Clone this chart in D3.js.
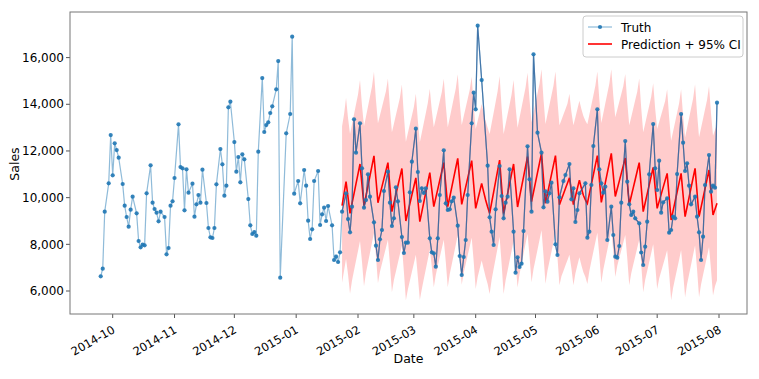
<!DOCTYPE html>
<html><head><meta charset="utf-8">
<script src="https://cdn.jsdelivr.net/npm/d3@7"></script>
<style>body{margin:0;background:#fff} svg{display:block} text{font-family:"DejaVu Sans",sans-serif;fill:#000}</style>
</head><body><svg id="c" width="759" height="379"></svg>
<script>
// ---- data ----
const truthDates = [
"2014-09-25","2014-09-26","2014-09-27","2014-09-29","2014-09-30","2014-10-01","2014-10-02","2014-10-03","2014-10-04",
"2014-10-06","2014-10-07","2014-10-08","2014-10-09","2014-10-10","2014-10-11",
"2014-10-13","2014-10-14","2014-10-15","2014-10-16","2014-10-17","2014-10-18",
"2014-10-20","2014-10-21","2014-10-22","2014-10-23","2014-10-24","2014-10-25",
"2014-10-27","2014-10-28","2014-10-29","2014-10-30","2014-10-31","2014-11-01",
"2014-11-03","2014-11-04","2014-11-05","2014-11-06","2014-11-07","2014-11-08",
"2014-11-10","2014-11-11","2014-11-12","2014-11-13","2014-11-14","2014-11-15",
"2014-11-17","2014-11-18","2014-11-19","2014-11-20","2014-11-21","2014-11-22",
"2014-11-24","2014-11-25","2014-11-26","2014-11-27","2014-11-28","2014-11-29",
"2014-12-01","2014-12-02","2014-12-03","2014-12-04","2014-12-05","2014-12-06",
"2014-12-08","2014-12-09","2014-12-10","2014-12-11","2014-12-12","2014-12-13",
"2014-12-15","2014-12-16","2014-12-17","2014-12-18","2014-12-19","2014-12-20",
"2014-12-22","2014-12-23","2014-12-24","2014-12-27",
"2014-12-29","2014-12-30","2014-12-31","2015-01-02","2015-01-03",
"2015-01-05","2015-01-06","2015-01-07","2015-01-08","2015-01-09","2015-01-10",
"2015-01-12","2015-01-13","2015-01-14","2015-01-15","2015-01-16","2015-01-17",
"2015-01-19","2015-01-20","2015-01-21","2015-01-22","2015-01-23","2015-01-24",
"2015-01-26","2015-01-27","2015-01-28","2015-01-29","2015-01-30","2015-01-31",
"2015-02-02","2015-02-03","2015-02-04","2015-02-05","2015-02-06","2015-02-07",
"2015-02-09","2015-02-10","2015-02-11","2015-02-12","2015-02-13","2015-02-14",
"2015-02-16","2015-02-17","2015-02-18","2015-02-19","2015-02-20","2015-02-21",
"2015-02-23","2015-02-24","2015-02-25","2015-02-26","2015-02-27","2015-02-28",
"2015-03-02","2015-03-03","2015-03-04","2015-03-05","2015-03-06","2015-03-07",
"2015-03-09","2015-03-10","2015-03-11","2015-03-12","2015-03-13","2015-03-14",
"2015-03-16","2015-03-17","2015-03-18","2015-03-19","2015-03-20","2015-03-21",
"2015-03-23","2015-03-24","2015-03-25","2015-03-26","2015-03-27","2015-03-28",
"2015-03-30","2015-03-31","2015-04-01","2015-04-02","2015-04-04",
"2015-04-07","2015-04-08","2015-04-09","2015-04-10","2015-04-11",
"2015-04-13","2015-04-14","2015-04-15","2015-04-16","2015-04-17","2015-04-18",
"2015-04-20","2015-04-21","2015-04-22","2015-04-23","2015-04-24","2015-04-25",
"2015-04-27","2015-04-28","2015-04-29","2015-04-30","2015-05-02",
"2015-05-04","2015-05-05","2015-05-06","2015-05-07","2015-05-08","2015-05-09",
"2015-05-11","2015-05-12","2015-05-13","2015-05-15","2015-05-16",
"2015-05-18","2015-05-19","2015-05-20","2015-05-21","2015-05-22","2015-05-23",
"2015-05-26","2015-05-27","2015-05-28","2015-05-29","2015-05-30",
"2015-06-01","2015-06-02","2015-06-03","2015-06-04","2015-06-05","2015-06-06",
"2015-06-08","2015-06-09","2015-06-10","2015-06-11","2015-06-12","2015-06-13",
"2015-06-15","2015-06-16","2015-06-17","2015-06-18","2015-06-19","2015-06-20",
"2015-06-22","2015-06-23","2015-06-24","2015-06-25","2015-06-26","2015-06-27",
"2015-06-29","2015-06-30","2015-07-01","2015-07-02","2015-07-03","2015-07-04",
"2015-07-06","2015-07-07","2015-07-08","2015-07-09","2015-07-10","2015-07-11",
"2015-07-13","2015-07-14","2015-07-15","2015-07-16","2015-07-17","2015-07-18",
"2015-07-20","2015-07-21","2015-07-22","2015-07-23","2015-07-24","2015-07-25",
"2015-07-27","2015-07-28","2015-07-29","2015-07-30","2015-07-31"];
const truthValues = [
6628,6957,9399,10612,12683,10955,12326,12040,11712,
10584,9656,9170,8756,9484,10041,
9327,8142,7871,7985,7956,10184,
11384,9784,9513,9356,8985,9399,
9170,7571,7842,9656,9841,10841,
13140,11312,11255,9456,11212,10213,
10598,9184,9713,10113,9784,11198,
9770,8699,8299,8271,8699,10570,
12083,11426,10084,10512,13868,14111,
12383,11112,11741,10655,11855,11641,
9941,8813,8442,8528,8370,11969,
15125,12812,13111,13226,13626,13911,
14639,15853,6571,12754,
13583,16896,10170,10713,9757,
11184,10512,9012,8228,8643,10713,
11141,8828,9286,9571,9000,9642,
8814,7328,7470,7242,7656,9400,
10184,9084,8513,9613,13354,11926,
13183,11255,9570,9898,10998,10041,
8942,7942,7328,8213,8613,10284,
11112,9784,8785,9113,10441,9841,
8313,7628,8071,8071,10227,11541,
12954,11098,9856,10400,10200,10400,
8256,7656,7614,7042,8256,10113,
12026,9756,9470,9499,9841,9998,
8799,7499,6685,7457,8185,10113,
13183,14497,13783,17367,15039,
11369,9156,8542,7971,9499,
11355,10070,9113,9784,10041,11212,
8542,6785,7442,7028,7171,8570,
12198,10784,9399,16139,12783,
11926,9584,10270,9827,10184,10641,
8000,7542,10013,10712,10970,
11441,9927,10398,8956,9470,10184,
10612,8285,8542,10541,12212,
13783,11212,10612,10213,10470,8185,
9613,8400,7470,7428,7928,9784,
12426,10684,9713,9256,9399,9113,
8900,7650,7114,7900,8970,11000,
13154,11255,10327,11583,9356,9800,
9970,8499,8613,9184,9113,11012,
13583,12355,11141,11469,10512,9713,
10041,9184,8513,7328,8328,10541,
11826,10255,10512,10427,14068];
const testStart = "2015-01-24";
const predStart = "2015-01-24";
const predValues = [
9655,10170,10684,10010,9330,9752,10174,10597,11019,
11441,10548,9655,10082,10509,10936,11363,
11790,10787,9784,10127,10470,10814,11157,
11500,10450,9400,9770,10140,10510,10880,
11250,10125,9000,9370,9740,10110,10480,
10850,9910,8970,9390,9810,10230,10650,
11069,10341,9613,9990,10367,10744,11121,
11498,10556,9613,10027,10441,10855,11270,
11684,10699,9713,10087,10461,10835,11210,
11584,10562,9540,9900,10250,10612,10250,
9900,9600,9327,9784,10241,10698,11155,
11612,10470,9327,9750,10173,10595,11018,
11441,10520,9600,10031,10462,10893,11324,
11755,10791,9827,10241,10655,11069,11484,
11898,10829,9760,10168,10576,10984,11392,
11800,10750,9700,9930,10160,10390,10620,
10850,10275,9700,10050,10400,10750,10400,
10100,9900,9750,10160,10570,10980,11390,
11800,10800,9800,10220,10640,11060,11480,
11900,10975,10050,10380,10710,11040,11370,
11700,10700,9700,10060,10420,10780,11140,
11500,10450,9400,9780,10160,10540,10920,
11300,10420,9541,9841,10141,10441,10741,
11041,10042,9042,9442,9842,10242,10642,
11041,10112,9184,9598,10012,10427,10841,
11255,10220,9184,9584,9984,10384,10784,
11184,10220,9256,9500,9756];
const ciUpper = [
13055,13570,14284,13410,12730,13152,13574,13997,14419,
15041,13948,13055,13482,13909,14336,14763,
15390,14187,13184,13527,13870,14214,14557,
15100,13850,12800,13170,13540,13910,14280,
14850,13525,12400,12770,13140,13510,13880,
14450,13310,12370,12790,13210,13630,14050,
14669,13741,13013,13390,13767,14144,14521,
15098,13956,13013,13427,13841,14255,14670,
15284,14099,13113,13487,13861,14235,14610,
15184,13962,12940,13300,13650,14012,13650,
13300,13000,12727,13184,13641,14098,14555,
15212,13870,12727,13150,13573,13995,14418,
15041,13920,13000,13431,13862,14293,14724,
15355,14191,13227,13641,14055,14469,14884,
15498,14229,13160,13568,13976,14384,14792,
15400,14150,13100,13330,13560,13790,14020,
14450,13675,13100,13450,13800,14150,13800,
13500,13300,13150,13560,13970,14380,14790,
15400,14200,13200,13620,14040,14460,14880,
15500,14375,13450,13780,14110,14440,14770,
15300,14100,13100,13460,13820,14180,14540,
15100,13850,12800,13180,13560,13940,14320,
14900,13820,12941,13241,13541,13841,14141,
14641,13442,12442,12842,13242,13642,14042,
14641,13512,12584,12998,13412,13827,14241,
14855,13620,12584,12984,13384,13784,14184,
14784,13620,12656,12900,13156];
const ciLower = [
6355,6870,7384,6710,5880,6452,6874,7297,7719,
8141,7248,6205,6782,7209,7636,8063,
8490,7487,6334,6827,7170,7514,7857,
8200,7150,5950,6470,6840,7210,7580,
7950,6825,5600,6070,6440,6810,7180,
7550,6610,5610,6090,6510,6930,7350,
7769,7041,6163,6690,7067,7444,7821,
8198,7256,6163,6727,7141,7555,7970,
8384,7399,6263,6787,7161,7535,7910,
8284,7262,6090,6600,6950,7312,6950,
6600,6300,5877,6484,6941,7398,7855,
8312,7170,5877,6450,6873,7295,7718,
8141,7220,6150,6731,7162,7593,8024,
8455,7491,6377,6941,7355,7769,8184,
8598,7529,6310,6868,7276,7684,8092,
8500,7450,6250,6630,6860,7090,7320,
7550,6975,6250,6750,7100,7450,7100,
6800,6600,6300,6860,7270,7680,8090,
8500,7500,6350,6920,7340,7760,8180,
8600,7675,6600,7080,7410,7740,8070,
8400,7400,6250,6760,7120,7480,7840,
8200,7150,5950,6480,6860,7240,7620,
8000,7120,6091,6541,6841,7141,7441,
7741,6742,5600,6142,6542,6942,7342,
7741,6812,5734,6298,6712,7127,7541,
7955,6920,5734,6284,6684,7084,7484,
7884,6920,5806,6200,6456];
const yTickValues = [6000, 8000, 10000, 12000, 14000, 16000];
const xTickLabels = ["2014-10","2014-11","2014-12","2015-01","2015-02","2015-03","2015-04","2015-05","2015-06","2015-07","2015-08"];
const seriesNames = ["Truth", "Prediction + 95% CI"];

// ---- chart ----
const parse = d3.timeParse("%Y-%m-%d");
const parseM = d3.timeParse("%Y-%m");
const svg = d3.select("#c");
const L = 70, R = 747, T = 12, B = 314;

const x = d3.scaleTime()
  .domain([parseM(xTickLabels[0]), parseM(xTickLabels[xTickLabels.length - 1])])
  .range([112.7, 719]);
const y = d3.scaleLinear().domain([5015, 17954]).range([B, T]);

const truth = truthDates.map((d, i) => ({ date: parse(d), value: truthValues[i] }));
const tStart = parse(testStart);
const truthTest = truth.filter(d => d.date >= tStart);
const p0 = parse(predStart);
const pred = predValues.map((v, i) => ({ date: d3.timeDay.offset(p0, i), value: v, lo: ciLower[i], hi: ciUpper[i] }));

svg.append("defs").append("clipPath").attr("id", "clip")
  .append("rect").attr("x", L).attr("y", T).attr("width", R - L).attr("height", B - T);
const g = svg.append("g").attr("clip-path", "url(#clip)");

const line = d3.line().x(d => x(d.date)).y(d => y(d.value));
const blue = "#1f77b4";

g.append("path").datum(truth).attr("d", line)
  .attr("fill", "none").attr("stroke", blue).attr("stroke-width", 1.2).attr("stroke-opacity", 0.5);

g.append("path").datum(pred)
  .attr("d", d3.area().x(d => x(d.date)).y0(d => y(d.lo)).y1(d => y(d.hi)))
  .attr("fill", "#ff0000").attr("fill-opacity", 0.2);

g.append("path").datum(pred).attr("d", line)
  .attr("fill", "none").attr("stroke", "#ff0000").attr("stroke-width", 1.6);

g.append("path").datum(truthTest).attr("d", line)
  .attr("fill", "none").attr("stroke", "#2a5f9a").attr("stroke-width", 1.2).attr("stroke-opacity", 0.75);

g.selectAll("circle.pt").data(truth).join("circle").attr("class", "pt")
  .attr("cx", d => x(d.date)).attr("cy", d => y(d.value)).attr("r", 2.1)
  .attr("fill", blue).attr("fill-opacity", 0.9);

// axes
const yAxis = svg.append("g");
yTickValues.forEach(v => {
  yAxis.append("line").attr("x1", L - 4).attr("x2", L).attr("y1", y(v)).attr("y2", y(v)).attr("stroke", "#555");
  yAxis.append("text").attr("x", L - 6).attr("y", y(v)).attr("dy", "0.35em")
    .attr("text-anchor", "end").attr("font-size", "12px").text(d3.format(",")(v));
});
const xAxis = svg.append("g");
xTickLabels.forEach(s => {
  const xv = x(parseM(s));
  xAxis.append("line").attr("x1", xv).attr("x2", xv).attr("y1", B).attr("y2", B + 4).attr("stroke", "#555");
  xAxis.append("text").attr("transform", `translate(${xv - 1},${B + 11}) rotate(-30)`)
    .attr("text-anchor", "end").attr("dy", "0.7em").attr("font-size", "11.5px").text(s);
});

// frame
svg.append("rect").attr("x", L).attr("y", T).attr("width", R - L).attr("height", B - T)
  .attr("fill", "none").attr("stroke", "#777").attr("stroke-width", 1);

svg.append("text").attr("x", (L + R) / 2).attr("y", 363).attr("text-anchor", "middle")
  .attr("font-size", "12.5px").text("Date");
svg.append("text").attr("transform", "translate(19,164) rotate(-90)").attr("text-anchor", "middle")
  .attr("font-size", "12.5px").text("Sales");

// legend
const lg = svg.append("g");
lg.append("rect").attr("x", 583).attr("y", 16).attr("width", 160).attr("height", 41).attr("rx", 3)
  .attr("fill", "#fff").attr("fill-opacity", 0.85).attr("stroke", "#ccc");
lg.append("line").attr("x1", 588).attr("x2", 612).attr("y1", 27).attr("y2", 27)
  .attr("stroke", blue).attr("stroke-width", 1.2).attr("stroke-opacity", 0.5);
lg.append("circle").attr("cx", 600).attr("cy", 27).attr("r", 2.1).attr("fill", blue).attr("fill-opacity", 0.9);
lg.append("text").attr("x", 621).attr("y", 31.5).attr("font-size", "12px").text(seriesNames[0]);
lg.append("line").attr("x1", 588).attr("x2", 612).attr("y1", 44).attr("y2", 44)
  .attr("stroke", "#ff0000").attr("stroke-width", 1.6);
lg.append("text").attr("x", 621).attr("y", 48.5).attr("font-size", "12px").text(seriesNames[1]);
</script>
</body></html>
